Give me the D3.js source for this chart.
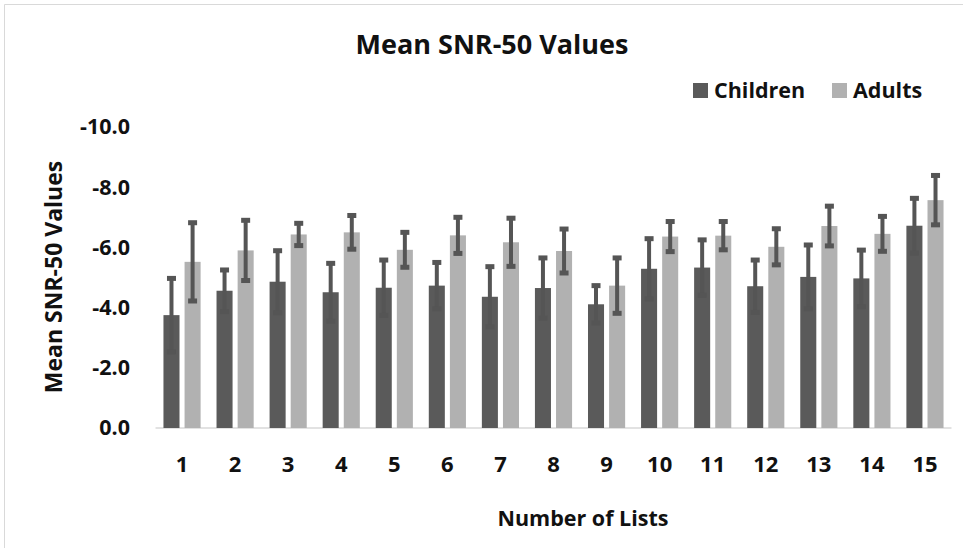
<!DOCTYPE html>
<html>
<head>
<meta charset="utf-8">
<script src="https://cdn.jsdelivr.net/npm/d3@7"></script>
<style>
  body { margin: 0; background: #fff; }
  text { font-family: "Open Sans", sans-serif; font-weight: bold; fill: #111; }
</style>
</head>
<body>
<script>
"use strict";

// data
var lists = ["1","2","3","4","5","6","7","8","9","10","11","12","13","14","15"];
var childrenMean = [-3.75,-4.56,-4.86,-4.51,-4.66,-4.73,-4.36,-4.65,-4.11,-5.29,-5.33,-4.71,-5.02,-4.97,-6.72];
var childrenErr  = [1.22,0.69,1.03,0.96,0.92,0.77,1.0,1.0,0.62,1.0,0.92,0.87,1.06,0.94,0.91];
var adultsMean   = [-5.52,-5.90,-6.43,-6.50,-5.92,-6.40,-6.17,-5.88,-4.73,-6.36,-6.39,-6.02,-6.71,-6.45,-7.57];
var adultsErr    = [1.3,1.0,0.37,0.56,0.58,0.6,0.8,0.73,0.92,0.5,0.47,0.6,0.66,0.58,0.82];
var seriesNames  = ["Children","Adults"];
var seriesColors = ["#5a5a5a","#b1b1b1"];
var yTicks = [0,-2,-4,-6,-8,-10];

function initialize() {
	var width = 963, height = 548;
	var svg = d3.select("body").append("svg")
		.attr("width", width)
		.attr("height", height);

	// faint chart frame
	svg.append("path")
		.attr("d", "M4.5,548 V4.5 H963")
		.attr("fill", "none")
		.attr("stroke", "#d9d9d9");

	var rows = lists.map(function(l, i) {
		return {list: l, values: [
			{key: 0, mean: childrenMean[i], err: childrenErr[i]},
			{key: 1, mean: adultsMean[i], err: adultsErr[i]}
		]};
	});

	var x0 = d3.scaleBand().domain(lists).range([155.5, 951.5]).paddingInner(0.30).paddingOuter(0.15);
	var x1 = d3.scaleBand().domain([0, 1]).range([0, x0.bandwidth()]).paddingInner(0.24);
	var y = d3.scaleLinear().domain([0, -10]).range([428, 127]);

	// baseline
	svg.append("line")
		.attr("x1", 155.5).attr("x2", 951.5)
		.attr("y1", y(0)).attr("y2", y(0))
		.attr("stroke", "#d9d9d9").attr("stroke-width", 1.5);

	// y axis labels (no line); hyphen instead of unicode minus
	var fmt = d3.format(".1f");
	var yAxis = svg.append("g")
		.attr("transform", "translate(130,0)")
		.call(d3.axisLeft(y).tickValues(yTicks).tickSize(0).tickPadding(0)
			.tickFormat(function(d) { return fmt(d).replace("\u2212", "-"); }));
	yAxis.select(".domain").remove();
	yAxis.selectAll("text").style("font-size", "21.5px")
		.style("font-family", null).attr("fill", null);

	// x axis labels
	var xAxis = svg.append("g")
		.attr("transform", "translate(0," + y(0) + ")")
		.call(d3.axisBottom(x0).tickSize(0).tickPadding(28));
	xAxis.select(".domain").remove();
	xAxis.selectAll("text").style("font-size", "22px")
		.style("font-family", null).attr("fill", null);

	var group = svg.append("g").selectAll(".grp")
		.data(rows)
		.enter().append("g")
		.attr("class", "grp")
		.attr("transform", function(d) { return "translate(" + x0(d.list) + ",0)"; });

	group.selectAll("rect")
		.data(function(d) { return d.values; })
		.enter().append("rect")
		.attr("x", function(d) { return x1(d.key); })
		.attr("width", x1.bandwidth())
		.attr("y", function(d) { return y(d.mean); })
		.attr("height", function(d) { return y(0) - y(d.mean); })
		.attr("fill", function(d) { return seriesColors[d.key]; });

	// error bars
	var eb = group.selectAll(".err")
		.data(function(d) { return d.values; })
		.enter().append("g")
		.attr("class", "err")
		.attr("transform", function(d) { return "translate(" + (x1(d.key) + x1.bandwidth() / 2) + ",0)"; });
	eb.append("line")
		.attr("y1", function(d) { return y(d.mean - d.err); })
		.attr("y2", function(d) { return y(d.mean + d.err); })
		.attr("stroke", "#555").attr("stroke-width", 4);
	eb.selectAll(".cap")
		.data(function(d) { return [d.mean - d.err, d.mean + d.err]; })
		.enter().append("rect")
		.attr("class", "cap")
		.attr("x", -4.5).attr("width", 9)
		.attr("y", function(v) { return y(v) - 2.5; })
		.attr("height", 5)
		.attr("fill", "#555");

	// title
	svg.append("text")
		.attr("x", 492).attr("y", 54)
		.attr("text-anchor", "middle")
		.style("font-size", "27px")
		.text("Mean SNR-50 Values");

	// axis titles
	svg.append("text")
		.attr("transform", "translate(62,277) rotate(-90)")
		.attr("text-anchor", "middle")
		.style("font-size", "23px")
		.text("Mean SNR-50 Values");
	svg.append("text")
		.attr("x", 583).attr("y", 526)
		.attr("text-anchor", "middle")
		.style("font-size", "21.5px")
		.text("Number of Lists");

	// legend
	var legX = [693, 832];
	var leg = svg.append("g").selectAll(".leg")
		.data(seriesNames)
		.enter().append("g")
		.attr("class", "leg")
		.attr("transform", function(d, i) { return "translate(" + legX[i] + ",83)"; });
	leg.append("rect")
		.attr("width", 15).attr("height", 15)
		.attr("fill", function(d, i) { return seriesColors[i]; });
	leg.append("text")
		.attr("x", 21).attr("y", 15)
		.style("font-size", "21.5px")
		.text(function(d) { return d; });
}

window.onload = initialize;
</script>
</body>
</html>
